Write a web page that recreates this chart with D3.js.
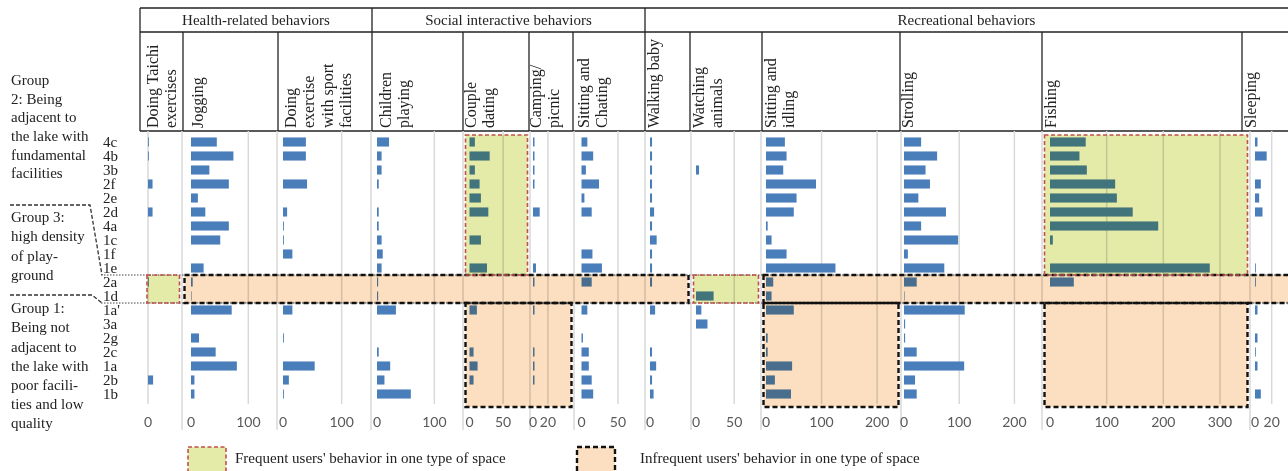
<!DOCTYPE html>
<html>
<head>
<meta charset="utf-8">
<script src="https://cdn.jsdelivr.net/npm/d3@7"></script>
<style>
  html, body { margin: 0; padding: 0; background: #fff; }
  svg { display: block; }
</style>
</head>
<body>
<svg id="chart" width="1288" height="471"></svg>
<script>
// ---- Data -------------------------------------------------------------
// Sites (rows), listed top to bottom
const sites = ["4c","4b","3b","2f","2e","2d","4a","1c","1f","1e","2a","1d","1a'","3a","2g","2c","1a","2b","1b"];

const groupHeaders = ["Health-related behaviors", "Social interactive behaviors", "Recreational behaviors"];
const behaviorHeaders = [
  ["Doing Taichi", "exercises"],
  ["Jogging"],
  ["Doing", "exercise", "with sport", "facilities"],
  ["Children", "playing"],
  ["Couple", "dating"],
  ["Camping/", "picnic"],
  ["Sitting and", "Chating"],
  ["Walking baby"],
  ["Watching", "animals"],
  ["Sitting and", "idling"],
  ["Strolling"],
  ["Fishing"],
  ["Sleeping"]
];

// Users observed per behavior, one value per site (same order as sites)
const taichi      = [1.5,1.5,0,8,0,8,0,0,0,0,1.5,0,0,0,0,0,0,9,0];
const jogging     = [45,74,32,66,12,25,66,51,0,22,3,1,71,0,14,43,80,6,6];
const sportExercise = [39,39,0,41,0,7,1.5,1.5,16,0,0,0,16,0,1.5,0,54,10,1.5];
const childrenPlaying = [21,8,8,3,0,3,3,8,10,8,2,2,33,0,0,3,23,13,59];
const coupleDating = [8,30,8,15,17,28,0,17,0,26,0,0,11,0,0,6,12,6,0];
const camping     = [2,2,2,2,0,9,0,0,0,4,2,0,2,0,0,2,2,2,0];
const chatting    = [8,16,6,24,4,14,0,0,15,28,14,0,8,0,2,10,10,14,16];
const walkingBaby = [4,4,4,4,4,8,4,13,4,4,4,0,10,0,0,4,12,4,7];
const watchingAnimals = [0,0,4,0,0,0,0,0,0,0,0,23,7,15,0,0,0,0,0];
const idling      = [34,37,31,90,55,50,3,10,37,125,13,10,50,0,3,3,47,16,45];
const strolling   = [31,60,39,47,26,76,31,98,7,73,23,1,110,2,2,23,109,20,23];
const fishing     = [63,52,65,115,118,146,191,5,0,282,42,0,0,0,0,0,0,0,0];
const sleeping    = [3,14,0,7,5,9,0,0,0,1,1,0,3,0,3,1,3,0,7];

const values = [taichi, jogging, sportExercise, childrenPlaying, coupleDating, camping,
                chatting, walkingBaby, watchingAnimals, idling, strolling, fishing, sleeping];

// Axis maxima and labelled ticks of each small-multiple panel
const axisMax = [60,150,150,150,90,55,87,80,85,243,250,353,42];
const tickValues = [[0],[0,100],[0,100],[0,100],[0,50],[0,20],[0,50],[0],[0,50],[0,100,200],[0,100,200],[0,100,200,300],[0,20]];

const groupLabels = [
  ["Group", "2: Being", "adjacent to", "the lake with", "fundamental", "facilities"],
  ["Group 3:", "high density", "of play-", "ground"],
  ["Group 1:", "Being not", "adjacent to", "the lake with", "poor facili-", "ties and low", "quality"]
];

// Highlighted blocks: [first panel, last panel, first site, last site]
const frequentBlocks   = [[4,4,"4c","1e"], [11,11,"4c","1e"], [0,0,"2a","1d"], [8,8,"2a","1d"]];
const infrequentBlocks = [[1,7,"2a","1d"], [9,12,"2a","1d"], [4,5,"1a'","1b"], [9,9,"1a'","1b"], [11,11,"1a'","1b"]];

const legendLabels = ["Frequent users' behavior in one type of space",
                      "Infrequent users' behavior in one type of space"];

// ---- Layout -----------------------------------------------------------
const W = 1288, H = 471;
const serif = "'Liberation Serif', 'Times New Roman', serif";
const sans = "Lato, 'Open Sans', sans-serif";
const ink = "#222";
const gridColor = "#d9d9d9";
const barColor = "#4a7ebb";
const greenFill = "#e4eaa8";
const orangeFill = "#fbdfc0";
const redDash = "#c0504d";

// plot strip of each panel: left separator, zero position, right separator
const panels = [
  {left:144.5, x0:148,   right:182,  gridZero:true},
  {left:182,   x0:191,   right:277},
  {left:277,   x0:283,   right:371},
  {left:371,   x0:377,   right:463},
  {left:463,   x0:469.5, right:530},
  {left:530,   x0:533,   right:574},
  {left:574,   x0:581.5, right:645},
  {left:645,   x0:650,   right:691},
  {left:691,   x0:696,   right:761},
  {left:761,   x0:766,   right:901},
  {left:901,   x0:904,   right:1042},
  {left:1042,  x0:1050,  right:1250},
  {left:1250,  x0:1255,  right:1290}
];
const headerCols = [140,183,278,372,463,529,573,645,690,762,900,1042,1242,W];
const headerPad = [12,14,12,13,7,6,10,8,8,8,7,8,8];
const groupSpans = [[140,372],[372,645],[645,W]];

const headTop = 8, headMid = 32, headBot = 131;
const plotTop = 135, plotBottom = 401;
const gridBottom = 404, sepBottom = 430, tickY = 422;

const svg = d3.select("#chart");

const y = d3.scaleBand().domain(sites).range([plotTop, plotBottom])
  .paddingInner(0.35).paddingOuter(0.175);
const step = y.step();
const rowTop = s => y(s) - y.paddingOuter() * step;
const rowBottom = s => {
  const b = y(s) + y.bandwidth() + y.paddingOuter() * step;
  return s === sites[sites.length - 1] ? b + 6 : b;
};

const xScales = panels.map((p, i) =>
  d3.scaleLinear().domain([0, axisMax[i]]).range([p.x0, p.right]));

// ---- Header table -----------------------------------------------------
const head = svg.append("g").attr("stroke", ink).attr("stroke-width", 1.3);
head.append("line").attr("x1", 140).attr("x2", W).attr("y1", headTop).attr("y2", headTop);
head.append("line").attr("x1", 140).attr("x2", W).attr("y1", headMid).attr("y2", headMid);
head.append("line").attr("x1", 140).attr("x2", W).attr("y1", headBot).attr("y2", headBot);
headerCols.slice(0, -1).forEach(x => {
  const full = x === 140 || groupSpans.some(g => g[0] === x);
  head.append("line").attr("x1", x).attr("x2", x)
    .attr("y1", full ? headTop : headMid).attr("y2", headBot);
});

svg.append("g").selectAll("text").data(groupHeaders).join("text")
  .attr("x", (d, i) => (groupSpans[i][0] + groupSpans[i][1]) / 2)
  .attr("y", (headTop + headMid) / 2)
  .attr("dy", "0.35em")
  .attr("text-anchor", "middle")
  .attr("font-family", serif).attr("font-size", 15).attr("fill", ink)
  .text(d => d);

behaviorHeaders.forEach((lines, c) => {
  lines.forEach((t, k) => {
    const cx = headerCols[c] + headerPad[c] + k * 18.5;
    svg.append("text")
      .attr("transform", `translate(${cx},${headBot - 3}) rotate(-90)`)
      .attr("dy", "0.35em")
      .attr("text-anchor", "start")
      .attr("font-family", serif).attr("font-size", 16).attr("fill", ink)
      .text(t);
  });
});

// ---- Grid and separators ---------------------------------------------
const grid = svg.append("g").attr("stroke", gridColor).attr("stroke-width", 1.5);
panels.forEach((p, i) => {
  tickValues[i].filter(t => t > 0 || p.gridZero).forEach(t => {
    const x = xScales[i](t);
    grid.append("line").attr("x1", x).attr("x2", x).attr("y1", headBot).attr("y2", gridBottom);
  });
  if (i < panels.length - 1) {
    grid.append("line").attr("x1", p.right).attr("x2", p.right)
      .attr("y1", headBot).attr("y2", sepBottom);
  }
});

// ---- Bars -------------------------------------------------------------
const bars = svg.append("g").attr("fill", barColor);
values.forEach((series, i) => {
  const xs = xScales[i];
  bars.selectAll(null)
    .data(series.map((v, r) => ({site: sites[r], v})).filter(d => d.v > 0))
    .join("rect")
    .attr("x", xs(0))
    .attr("y", d => y(d.site))
    .attr("width", d => xs(d.v) - xs(0))
    .attr("height", y.bandwidth());
});

// ---- Tick labels ------------------------------------------------------
panels.forEach((p, i) => {
  svg.append("g").selectAll("text").data(tickValues[i]).join("text")
    .attr("x", t => xScales[i](t))
    .attr("y", tickY)
    .attr("dy", "0.35em")
    .attr("text-anchor", "middle")
    .attr("font-family", sans).attr("font-size", 14).attr("fill", "#595959")
    .text(t => t);
});

// ---- Dotted guides bounding the 2a/1d strip ---------------------------
const stripTop = rowTop("2a"), stripBottom = rowBottom("1d");
svg.append("g").attr("stroke", "#444").attr("stroke-width", 1).attr("stroke-dasharray", "1.5 1.5")
  .selectAll("line").data([stripTop, stripBottom]).join("line")
  .attr("x1", 101).attr("x2", W).attr("y1", d => d).attr("y2", d => d);

// ---- Highlight blocks -------------------------------------------------
function blockRect(b) {
  const x1 = panels[b[0]].left + 2.5;
  const x2 = b[1] === panels.length - 1 ? W + 6 : panels[b[1]].right - 2.5;
  const y1 = rowTop(b[2]), y2 = rowBottom(b[3]);
  return {x: x1, y: y1, w: x2 - x1, h: y2 - y1};
}
function drawBlocks(list, fill) {
  const rects = list.map(blockRect);
  svg.append("g").selectAll("rect").data(rects).join("rect")
    .attr("x", d => d.x).attr("y", d => d.y).attr("width", d => d.w).attr("height", d => d.h)
    .attr("fill", fill).style("mix-blend-mode", "multiply");
  return rects;
}
const freqRects = drawBlocks(frequentBlocks, greenFill);
const infreqRects = drawBlocks(infrequentBlocks, orangeFill);

svg.append("g").selectAll("rect").data(infreqRects).join("rect")
  .attr("x", d => d.x).attr("y", d => d.y).attr("width", d => d.w).attr("height", d => d.h)
  .attr("fill", "none").attr("stroke", "#111").attr("stroke-width", 2.4)
  .attr("stroke-dasharray", "5 3");
svg.append("g").selectAll("rect").data(freqRects).join("rect")
  .attr("x", d => d.x).attr("y", d => d.y).attr("width", d => d.w).attr("height", d => d.h)
  .attr("fill", "none").attr("stroke", redDash).attr("stroke-width", 1.6)
  .attr("stroke-dasharray", "4 2.5");

// ---- Site labels ------------------------------------------------------
svg.append("g").selectAll("text").data(sites).join("text")
  .attr("x", 103)
  .attr("y", d => y(d) + y.bandwidth() / 2)
  .attr("dy", "0.35em")
  .attr("font-family", serif).attr("font-size", 15).attr("fill", ink)
  .text(d => d);

// ---- Group captions on the left --------------------------------------
const groupLineY = [[80, 18.6], [216.5, 19.5], [308, 19.2]];
groupLabels.forEach((lines, g) => {
  svg.append("g").selectAll("text").data(lines).join("text")
    .attr("x", 11)
    .attr("y", (d, k) => groupLineY[g][0] + k * groupLineY[g][1])
    .attr("dy", "0.35em")
    .attr("font-family", serif).attr("font-size", 15).attr("fill", ink)
    .text(d => d);
});

// dashed connectors from the captions to the 2a/1d strip
const connectors = [
  [[10, 205], [90, 205], [102, stripTop]],
  [[10, 295], [92, 295], [102, stripBottom]]
];
svg.append("g").selectAll("path").data(connectors).join("path")
  .attr("d", d => d3.line()(d))
  .attr("fill", "none").attr("stroke", "#333").attr("stroke-width", 1.3)
  .attr("stroke-dasharray", "4 2");

// ---- Legend -----------------------------------------------------------
const legend = [
  {x: 188, fill: greenFill, stroke: redDash, sw: 1.6, dash: "4 2.5", tx: 235, label: legendLabels[0]},
  {x: 577, fill: orangeFill, stroke: "#111", sw: 2.4, dash: "5 3", tx: 640, label: legendLabels[1]}
];
const lg = svg.append("g").selectAll("g").data(legend).join("g");
lg.append("rect")
  .attr("x", d => d.x).attr("y", 447).attr("width", 38).attr("height", 30)
  .attr("fill", d => d.fill).attr("stroke", d => d.stroke)
  .attr("stroke-width", d => d.sw).attr("stroke-dasharray", d => d.dash);
lg.append("text")
  .attr("x", d => d.tx).attr("y", 458).attr("dy", "0.35em")
  .attr("font-family", serif).attr("font-size", 15).attr("fill", ink)
  .text(d => d.label);
</script>
</body>
</html>
